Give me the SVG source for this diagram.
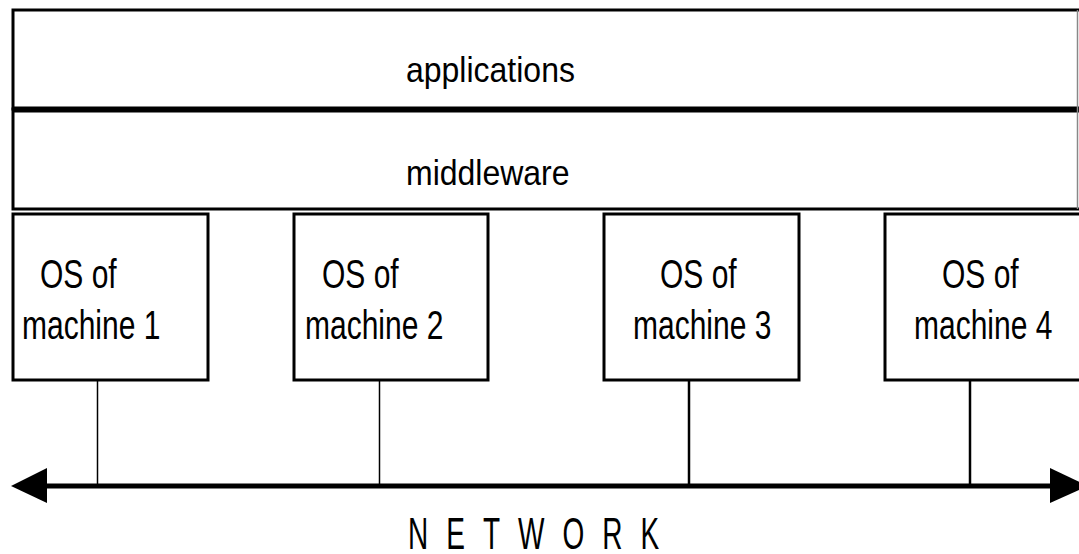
<svg xmlns="http://www.w3.org/2000/svg" width="1079" height="554" viewBox="0 0 1079 554">
  <defs>
    <style>
      .layer { fill: #ffffff; stroke: #000000; stroke-width: 3; }
      .box { fill: #ffffff; stroke: #000000; stroke-width: 3; }
      .lbl { font-family: "Liberation Sans", Arial, sans-serif; fill: #000000; }
      .layer-lbl { font-size: 32px; }
      .os-lbl { font-size: 30px; }
      .net-lbl { font-size: 28px; letter-spacing: 18px; }
      .drop { stroke: #000000; fill: none; }
      .bus { stroke: #000000; stroke-width: 5; fill: none; }
      .head { fill: #000000; }
    </style>
  </defs>
  <rect x="0" y="0" width="1079" height="554" fill="#ffffff"/>

  <!-- application layer -->
  <g id="applications">
    <path class="layer" d="M1082 10 H13 V109 H1082"/>
    <text class="lbl layer-lbl" transform="translate(406,82) scale(1,1.1)">applications</text>
  </g>

  <!-- middleware layer -->
  <g id="middleware">
    <path class="layer" d="M1082 109 H13 V209 H1082"/>
    <line x1="13" y1="109.5" x2="1082" y2="109.5" stroke="#000" stroke-width="6"/>
    <line x1="1077.5" y1="10" x2="1077.5" y2="209" stroke="#888" stroke-width="1.5"/>
    <text class="lbl layer-lbl" transform="translate(406,185) scale(1,1.1)">middleware</text>
  </g>

  <!-- per-machine operating systems -->
  <g id="os1">
    <rect class="box" x="13" y="214" width="195" height="166"/>
    <text class="lbl os-lbl" transform="translate(40,288) scale(1,1.35)">OS of</text>
    <text class="lbl os-lbl" transform="translate(22,339) scale(1,1.35)">machine 1</text>
  </g>
  <g id="os2">
    <rect class="box" x="294" y="214" width="194" height="166"/>
    <text class="lbl os-lbl" transform="translate(322,288) scale(1,1.35)">OS of</text>
    <text class="lbl os-lbl" transform="translate(305,339) scale(1,1.35)">machine 2</text>
  </g>
  <g id="os3">
    <rect class="box" x="604" y="214" width="195" height="166"/>
    <text class="lbl os-lbl" transform="translate(660,288) scale(1,1.35)">OS of</text>
    <text class="lbl os-lbl" transform="translate(633,339) scale(1,1.35)">machine 3</text>
  </g>
  <g id="os4">
    <rect class="box" x="885" y="214" width="200" height="166"/>
    <text class="lbl os-lbl" transform="translate(942,288) scale(1,1.35)">OS of</text>
    <text class="lbl os-lbl" transform="translate(914,339) scale(1,1.35)">machine 4</text>
  </g>

  <!-- network bus and drops -->
  <g id="connectors">
    <line class="drop" x1="97.5" y1="380" x2="97.5" y2="486" stroke-width="1.5"/>
    <line class="drop" x1="379.5" y1="380" x2="379.5" y2="486" stroke-width="1.5"/>
    <line class="drop" x1="689" y1="380" x2="689" y2="486" stroke-width="2.5"/>
    <line class="drop" x1="970" y1="380" x2="970" y2="486" stroke-width="2.5"/>
    <line class="bus" x1="40" y1="486" x2="1060" y2="486"/>
    <polygon class="head" points="11,486 47,468 47,503"/>
    <polygon class="head" points="1088,486 1050,468 1050,503"/>
  </g>

  <g id="network">
    <text class="lbl net-lbl" transform="translate(408,549) scale(1,1.6)">NETWORK</text>
  </g>
</svg>
